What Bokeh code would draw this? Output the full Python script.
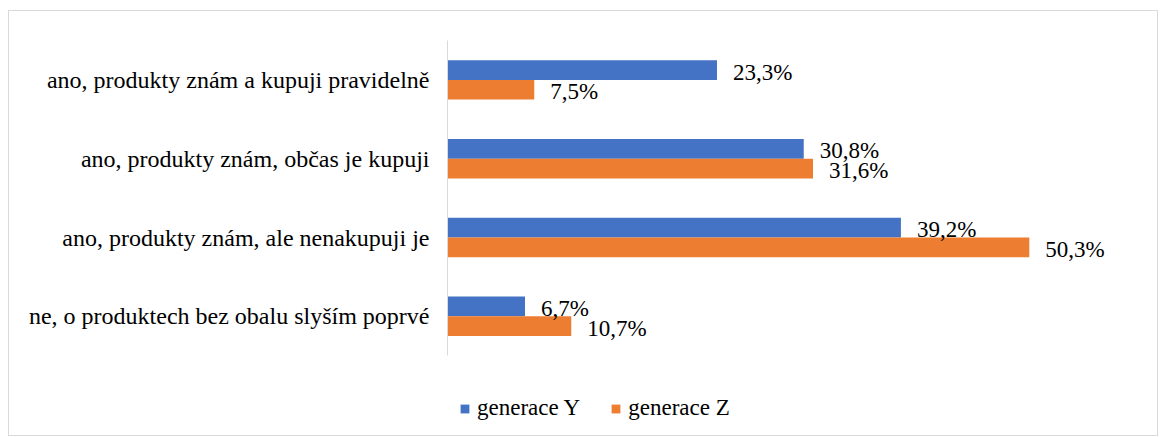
from bokeh.plotting import figure
from bokeh.models import ColumnDataSource, FactorRange, Range1d, Legend, LegendItem
from bokeh.transform import dodge
from bokeh.core.properties import value
from bokeh.embed import file_html
from bokeh.resources import INLINE

categories = [
    "ano, produkty znám a kupuji pravidelně",
    "ano, produkty znám, občas je kupuji",
    "ano, produkty znám, ale nenakupuji je",
    "ne, o produktech bez obalu slyším poprvé",
]
series_names = ["generace Y", "generace Z"]
gen_y = [23.3, 30.8, 39.2, 6.7]
gen_z = [7.5, 31.6, 50.3, 10.7]

def fmt(v):
    return f"{v:.1f}".replace(".", ",") + "%"

src = ColumnDataSource(dict(
    cat=categories,
    y=gen_y,
    z=gen_z,
    ylab=[fmt(v) for v in gen_y],
    zlab=[fmt(v) for v in gen_z],
))

FONT = "'Liberation Serif', 'Times New Roman', serif"
FS = "23px"
BLUE = "#4472C4"
ORANGE = "#ED7D31"

# an empty factor at the bottom leaves room for the legend below the axis line
factors = [" "] + list(reversed(categories))

p = figure(
    width=1150, height=426,
    y_range=FactorRange(*factors),
    x_range=Range1d(0, 60),
    output_backend="svg", toolbar_location=None,
    min_border_left=438, min_border_right=18,
    min_border_top=29, min_border_bottom=3,
)
p.styles = {"border": "1px solid #d9d9d9", "margin-top": "10px", "margin-left": "8px"}
p.outline_line_color = None
p.xgrid.visible = False
p.ygrid.visible = False
p.xaxis.visible = False

ax = p.yaxis[0]
ax.bounds = (1, len(factors))
ax.axis_line_color = "#d9d9d9"
ax.axis_line_width = 1
ax.major_tick_line_color = None
ax.minor_tick_line_color = None
ax.major_label_standoff = 12
ax.major_label_text_font = FONT
ax.major_label_text_font_size = "24px"
ax.major_label_text_color = "#000000"

h = 0.25
ry = p.hbar(y=dodge("cat", h / 2, range=p.y_range), right="y", left=0, height=h,
            source=src, fill_color=BLUE, line_color=None)
rz = p.hbar(y=dodge("cat", -h / 2, range=p.y_range), right="z", left=0, height=h,
            source=src, fill_color=ORANGE, line_color=None)

p.text(x="y", y=dodge("cat", h / 2, range=p.y_range), text="ylab", source=src,
       x_offset=16, y_offset=2, text_baseline="middle", text_align="left",
       text_font=value(FONT), text_font_size=FS, text_color="#000000")
p.text(x="z", y=dodge("cat", -h / 2, range=p.y_range), text="zlab", source=src,
       x_offset=16, y_offset=2, text_baseline="middle", text_align="left",
       text_font=value(FONT), text_font_size=FS, text_color="#000000")

legend = Legend(
    items=[LegendItem(label=series_names[0], renderers=[ry]),
           LegendItem(label=series_names[1], renderers=[rz])],
    orientation="horizontal",
    location=(12, 13),
    padding=0, margin=0, spacing=30,
    glyph_width=11, glyph_height=11, label_standoff=7,
    label_text_font=FONT, label_text_font_size=FS, label_text_color="#000000",
    border_line_color=None, background_fill_alpha=0,
)
p.add_layout(legend, "center")

open("out.html", "w").write(file_html(p, INLINE))
